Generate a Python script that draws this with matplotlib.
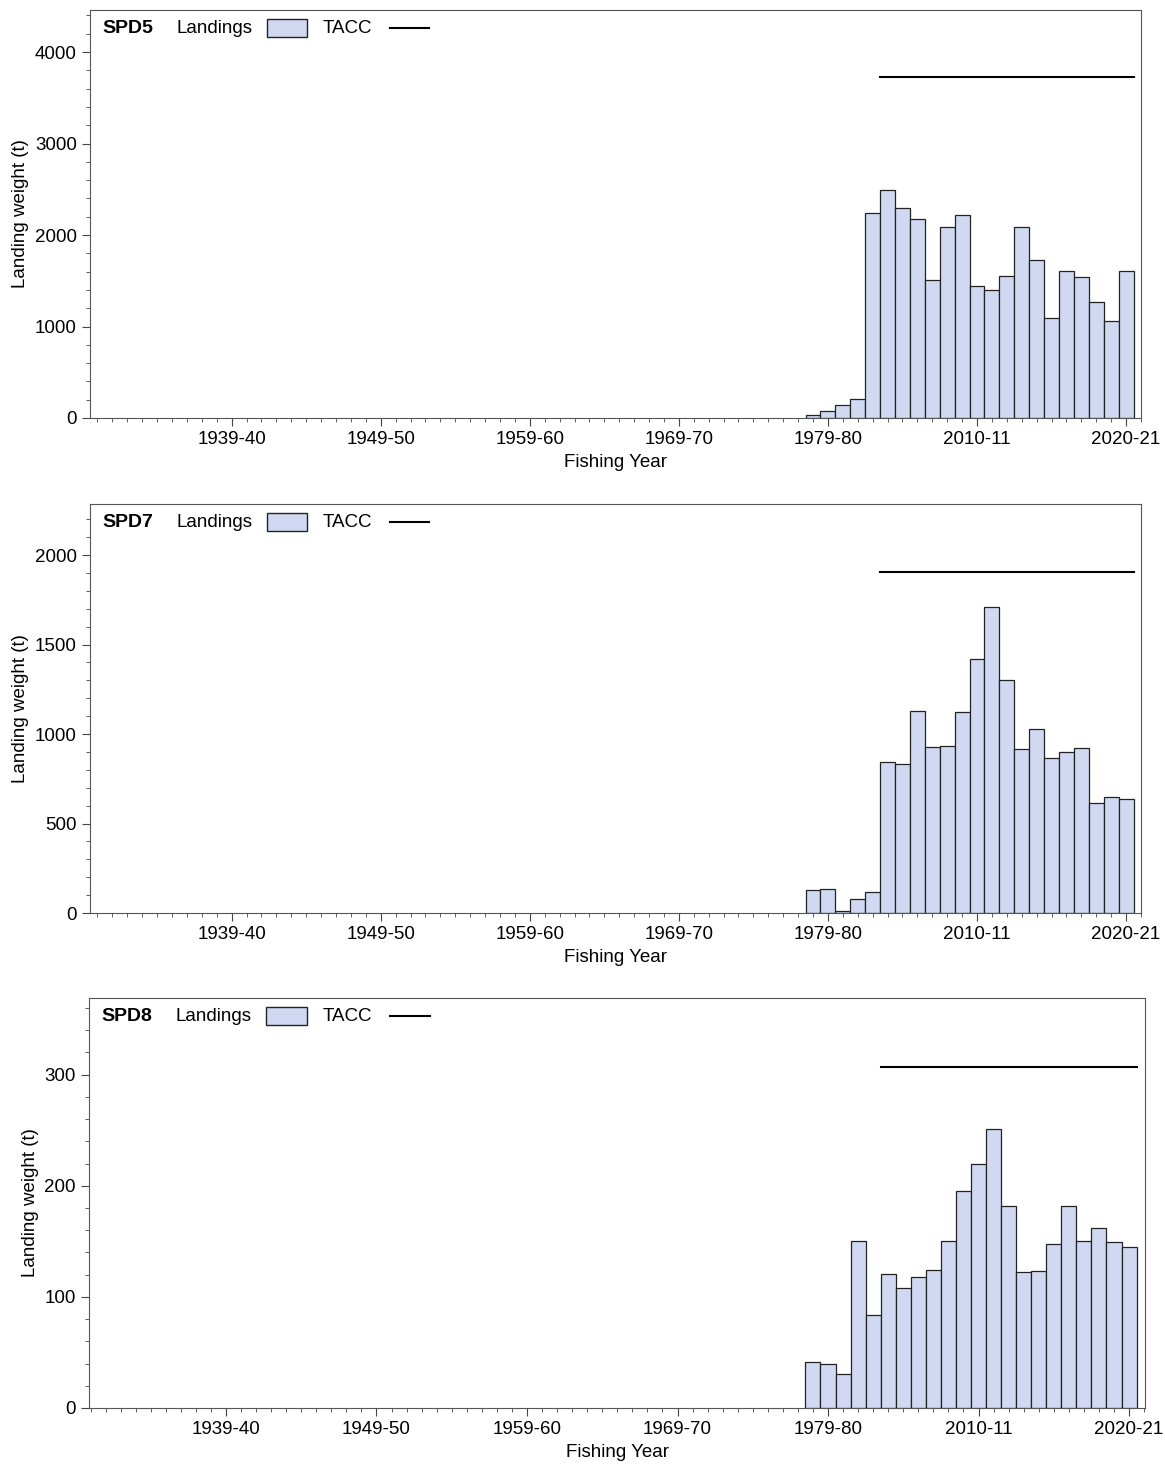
import matplotlib.pyplot as plt
from matplotlib.patches import Rectangle
from matplotlib.lines import Line2D
from matplotlib.ticker import MultipleLocator

plt.rcParams['font.family'] = ['Liberation Sans', 'DejaVu Sans']

# bar positions: one slot per fishing year shown on the chart
years = list(range(1978, 2000))
tick_pos = [1939, 1949, 1959, 1969, 1979, 1989, 1999]
tick_labels = ['1939-40', '1949-50', '1959-60', '1969-70', '1979-80', '2010-11', '2020-21']

spd5 = [30, 75, 140, 205, 2240, 2490, 2300, 2170, 1510, 2085, 2220, 1445,
        1395, 1550, 2085, 1723, 1093, 1612, 1540, 1272, 1065, 1612]
spd7 = [127, 132, 13, 77, 117, 842, 832, 1127, 927, 933, 1121, 1417,
        1708, 1302, 916, 1028, 864, 898, 920, 613, 648, 637]
spd8 = [41.7, 40, 31, 150, 84, 121, 108, 118, 124, 150, 195, 220,
        251, 182, 122, 123, 148, 182, 150, 162, 149, 145]

tacc = [3730, 1904, 307]
tacc_start, tacc_end = 1982.5, 1999.5

stocks = ['SPD5', 'SPD7', 'SPD8']
series = [spd5, spd7, spd8]
ylims = [4460, 2285, 369]
ymajor = [1000, 500, 100]
yminor = [200, 100, 20]
xlims = [(1929.5, 2000), (1929.5, 2000), (1929.9, 2000.06)]

fill = '#d0d9f1'
fig = plt.figure(figsize=(11.65, 14.7), dpi=100)
boxes = [(90, 10, 1141, 418), (90, 504, 1141, 913), (89, 998, 1145, 1408)]

for i, (x0, y0, x1, y1) in enumerate(boxes):
    ax = fig.add_axes([x0 / 1165, 1 - y1 / 1470, (x1 - x0) / 1165, (y1 - y0) / 1470])
    ax.bar(years, series[i], width=1.0, color=fill, edgecolor='#222222', linewidth=0.9)
    ax.plot([tacc_start, tacc_end], [tacc[i], tacc[i]], color='black', linewidth=1.5)
    ax.set_xlim(*xlims[i])
    ax.set_ylim(0, ylims[i])
    ax.set_xticks(tick_pos)
    ax.set_xticklabels(tick_labels)
    ax.xaxis.set_minor_locator(MultipleLocator(1))
    ax.yaxis.set_major_locator(MultipleLocator(ymajor[i]))
    ax.yaxis.set_minor_locator(MultipleLocator(yminor[i]))
    ax.tick_params(which='major', length=6, labelsize=13.5, color='#444444')
    ax.tick_params(which='minor', length=3, color='#444444')
    for s in ax.spines.values():
        s.set_color('#555555')
    ax.set_xlabel('Fishing Year', fontsize=13.5)
    ax.set_ylabel('Landing weight (t)', fontsize=13.5)

    # legend row in the top-left corner
    ty = 0.955
    ax.text(0.012, ty, stocks[i], transform=ax.transAxes, fontsize=14,
            fontweight='bold', va='center')
    ax.text(0.082, ty, 'Landings', transform=ax.transAxes, fontsize=13.5, va='center')
    ax.add_patch(Rectangle((0.168, ty - 0.022), 0.038, 0.044, transform=ax.transAxes,
                           facecolor=fill, edgecolor='#222222', linewidth=1))
    ax.text(0.221, ty, 'TACC', transform=ax.transAxes, fontsize=13.5, va='center')
    ax.add_line(Line2D([0.285, 0.323], [ty, ty], transform=ax.transAxes,
                       color='black', linewidth=1.5))

fig.savefig('out.png', dpi=100)
